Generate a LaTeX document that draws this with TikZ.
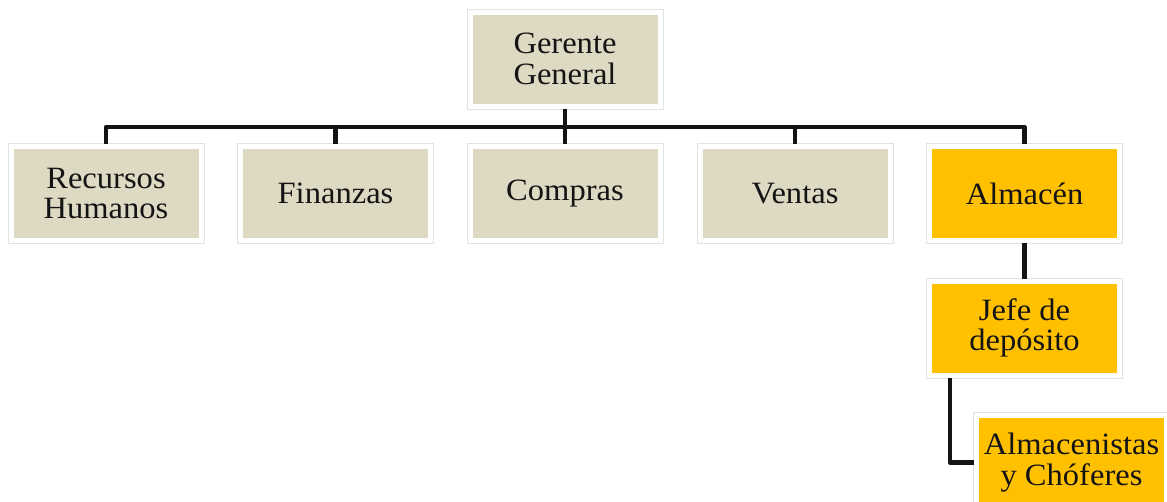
\documentclass[tikz,border=0pt]{standalone}
\usepackage{fontspec}
\setmainfont[FakeStretch=1.05]{Liberation Serif}
\usetikzlibrary{calc}
\definecolor{beige}{HTML}{DDD9C3}
\definecolor{amber}{HTML}{FFC000}
\definecolor{rim}{HTML}{E2E2E2}
\definecolor{ink}{HTML}{141414}
\tikzset{
  unit/.style={draw=white, line width=5pt, minimum width=190pt, minimum height=94pt,
    inner sep=0pt, align=center, text=ink,
    font=\fontsize{31}{30.5}\selectfont},
  staff/.style={unit, fill=beige},
  store/.style={unit, fill=amber},
  link/.style={line width=4.5pt, line join=round, color=ink},
  outline/.style={draw=rim, line width=0.8pt}
}
\begin{document}
\begin{tikzpicture}[x=1pt, y=-1pt]
  \useasboundingbox (0,0) rectangle (1167,501);
  \clip (0,0) rectangle (1167,501);
  % units
  \node[staff] (gg)  at (565,59)      {Gerente\\General};
  \node[staff] (rh)  at (106,193.5)   {Recursos\\Humanos};
  \node[staff] (fin) at (335.5,193.5) {Finanzas};
  \node[staff] (com) at (565,193.5)   {Compras};
  \node[staff] (ven) at (795,193.5)   {Ventas};
  \node[store] (alm) at (1024.5,193.5){Almacén};
  \node[store] (jef) at (1024.5,328)  {Jefe de\\depósito};
  \node[store] (ach) at (1071.5,462.5){Almacenistas\\y Chóferes};
  % thin rim round each white frame
  \foreach \n in {gg,rh,fin,com,ven,alm,jef,ach}
    \draw[outline] ([xshift=-0.4pt,yshift=0.4pt]\n.north west) rectangle ([xshift=0.4pt,yshift=-0.4pt]\n.south east);
  % connectors
  \coordinate (bus) at (565,127);
  \draw[link] (gg.south) -- (bus);
  \draw[link] (rh.north) |- (bus) -| (alm.north);
  \draw[link] (fin.north) -- (fin.north |- bus);
  \draw[link] (com.north) -- (com.north |- bus);
  \draw[link] (ven.north) -- (ven.north |- bus);
  \draw[link] (alm.south) -- (jef.north);
  \draw[link] ($(jef.south west)+(23,0)$) |- (ach.west);
\end{tikzpicture}
\end{document}
